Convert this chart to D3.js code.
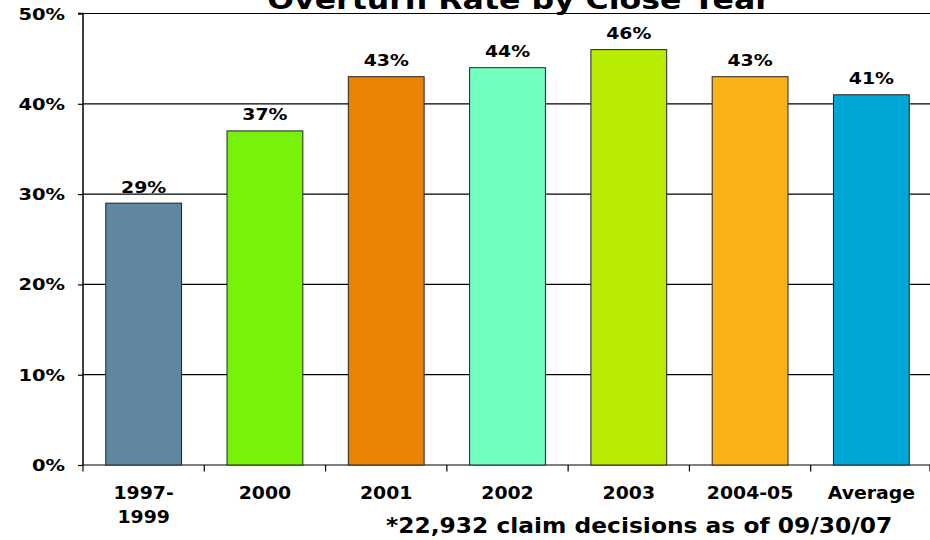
<!DOCTYPE html>
<html><head><meta charset="utf-8">
<script src="https://cdn.jsdelivr.net/npm/d3@7"></script>
<style>body{margin:0;background:#fff;} svg{display:block;font-family:"DejaVu Sans",Verdana,sans-serif;font-weight:bold;}</style>
</head><body>
<svg id="c" width="930" height="540"></svg>
<script>
const categories = ["1997-1999", "2000", "2001", "2002", "2003", "2004-05", "Average"];
const categoryLines = [["1997-","1999"],["2000"],["2001"],["2002"],["2003"],["2004-05"],["Average"]];
const values = [29, 37, 43, 44, 46, 43, 41];
const colors = ["#5f87a0", "#77f20a", "#e98305", "#72ffbf", "#b8ec00", "#fbb217", "#00a6d6"];
const yTicks = [0, 10, 20, 30, 40, 50];
const title = "Overturn Rate by Close Year";
const footnote = "*22,932 claim decisions as of 09/30/07";

const svg = d3.select("#c");
const m = {left: 83, right: -2, top: 13.5, bottom: 75};
const W = 930, H = 540;
const x = d3.scaleBand().domain(categories).range([m.left, W - m.right]).paddingInner(0.375).paddingOuter(0.1875);
const y = d3.scaleLinear().domain([0, 50]).range([H - m.bottom, m.top]);

// helper: horizontally stretched text
function stext(g, tx, ty, str, size, sx, anchor) {
  return g.append("text")
    .attr("transform", `translate(${tx},${ty}) scale(${sx},1)`)
    .attr("text-anchor", anchor || "middle")
    .attr("font-size", size).attr("fill", "#000").text(str);
}

// gridlines
svg.append("g").selectAll("line").data(yTicks).join("line")
  .attr("x1", m.left).attr("x2", W).attr("y1", d => y(d)).attr("y2", d => y(d))
  .attr("stroke", "#000").attr("stroke-width", 1.2);

// bars
svg.append("g").selectAll("rect").data(values).join("rect")
  .attr("x", (d, i) => x(categories[i])).attr("width", x.bandwidth())
  .attr("y", d => y(d)).attr("height", d => y(0) - y(d))
  .attr("fill", (d, i) => colors[i]).attr("stroke", "#222").attr("stroke-width", 1);

// value labels
const vl = svg.append("g");
values.forEach((v, i) => stext(vl, x(categories[i]) + x.bandwidth() / 2, y(v) - 10.5, v + "%", 16, 1.18));

// y axis
const yAxis = d3.axisLeft(y).tickValues(yTicks).tickFormat("").tickSize(5);
const ya = svg.append("g").attr("transform", `translate(${m.left},0)`).call(yAxis);
ya.select(".domain").attr("stroke", "#000").attr("stroke-width", 1.5).attr("d", `M-5,${y(50)}H0V${y(0)}`);
ya.selectAll("line").attr("stroke", "#000").attr("stroke-width", 1.2);
const yl = svg.append("g");
yTicks.forEach(t => stext(yl, 65, y(t) + 6, t + "%", 16.5, 1.18, "end"));

// x axis ticks (band boundaries)
const bounds = categories.map(c => x(c) - x.step() * x.paddingInner() / 2);
bounds.push(W);
svg.append("g").selectAll("line").data(bounds).join("line")
  .attr("x1", d => d).attr("x2", d => d).attr("y1", y(0)).attr("y2", y(0) + 6.5)
  .attr("stroke", "#000").attr("stroke-width", 1.2);

// x labels
const xl = svg.append("g");
categories.forEach((c, i) => {
  categoryLines[i].forEach((ln, j) => stext(xl, x(c) + x.bandwidth() / 2, 499 + j * 24, ln, 17, 1.11));
});

// title
stext(svg, 519, 9, title, 27, 1.17);

// footnote
stext(svg, 386, 533, footnote, 20.5, 1.14, "start");
</script>
</body></html>
